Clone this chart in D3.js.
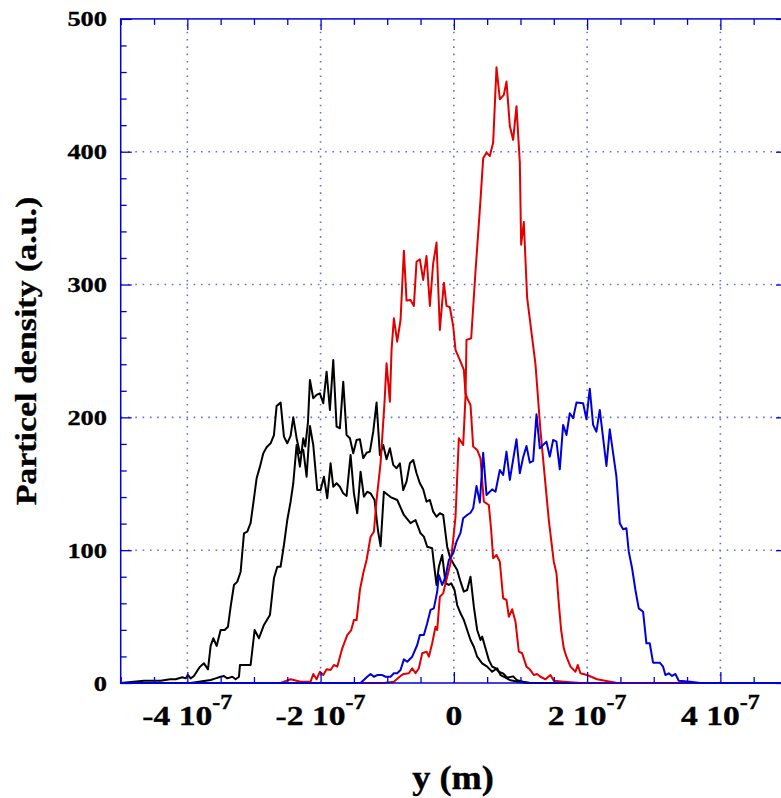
<!DOCTYPE html>
<html>
<head>
<meta charset="utf-8">
<script src="https://cdn.jsdelivr.net/npm/d3@7"></script>
<style>
  html, body { margin: 0; padding: 0; background: #fff; }
  svg { display: block; }
  text { font-family: "Liberation Serif", "Times New Roman", serif; font-weight: bold; fill: #000;
         stroke: #000; stroke-width: 0.35px; }
</style>
</head>
<body>
<script>
// Particle density profiles across y; x positions in nm, density in a.u.
const blackA = [
  [-500,0],[-465,1.7],[-440,1.7],[-426,2.8],[-417.5,2.8],[-407.5,4.3],[-402.5,3.5],[-399,6],[-395,3.5],
  [-390,5.3],[-386,8.5],[-381,12.3],[-375,14.8],[-369,10.3],[-365,27.9],[-361,33.7],[-356,27.9],
  [-350,39.9],[-344,39.9],[-339,42.4],[-335,57.5],[-330,73.8],[-325,76.3],[-320,83.8],[-315,112.7],
  [-310,113.9],[-305,120.5],[-301,135.3],[-296,154.1],[-291,162.9],[-286,172.9],[-281,177.5],
  [-275,180.5],[-270,186.7],[-266,208.6],[-260,211.1],[-255,185.5],[-250,180.5],[-245,186],
  [-241,200],[-236,184.3],[-231,173],[-226,175.5],[-221,155.3],[-216,193.5],[-211,179.2],
  [-205,145.3],[-200,145.3],[-195,155.3],[-190,139.1],[-185,165.4],[-181,147.8],[-176,150.4],
  [-171,147.8],[-166,142.8],[-161,140.8],[-155,171.7],[-150,142.8],[-145,127.8],[-140,159.1],
  [-135,140.3],[-130,144],[-125,142.8],[-119,137.8],[-114,115.2],[-110,103],[-105,144],[-95,140],
  [-85,137.8],[-75,126.5],[-65,120.3],[-57.5,122.7],[-50,112.7],[-45,110.2],[-40,102.6],
  [-32.5,101.4],[-30,90.1],[-26,73.8],[-22.5,87.6],[-17.5,96.4],[-12.5,75.1],[-7.5,73.8],
  [-4,75.1],[1,70],[5,58.7],[10,52.5],[15,47.4],[20,39.9],[25,32.4],[30,27.3],[35,19.8],
  [42.5,14.8],[50,12.3],[57.5,8.5],[65,11.1],[70,6],[77.5,4],[85,2],[100,0.5],[110,0],[500,0]
];
const blackB = [
  [-500,0],[-395,0],[-365,2.3],[-357.5,3.5],[-350,4.7],[-345,5.3],[-340,3.5],[-332.5,4.7],
  [-327.5,2.8],[-322.5,4.7],[-321,13.6],[-305,13.6],[-299,39.9],[-292.5,33.7],[-285,43.7],
  [-276,51.2],[-270,78.8],[-265,87.6],[-260,87.6],[-255,103.9],[-250,122.7],[-245,136.5],
  [-241,150.4],[-236,179.2],[-231,162.9],[-226,184.3],[-223,178],[-219,196],[-216,228.2],
  [-211,214.4],[-206,216.9],[-201,218.1],[-196,210.6],[-191,234.4],[-186,205.6],[-181,243.2],
  [-176,193],[-171,191.8],[-166,226.9],[-161,186.7],[-156,184.3],[-151,173],[-146,183],
  [-141,183.5],[-136,169.2],[-131,173.4],[-126,174.2],[-121,189.2],[-116,211.1],[-111,171.7],
  [-106,179.2],[-101,168.4],[-96,176.7],[-91,164.2],[-86,161.7],[-81,165.4],[-76,145.3],
  [-71,151.6],[-66,165.4],[-61,167.9],[-56,157.9],[-51,150.4],[-46,145.8],[-41,136.5],
  [-36,137.8],[-31,129],[-26,125.2],[-21,127.8],[-16,126.5],[-10,102.6],[-6,95.1],[-1,90.1],
  [5,85.1],[10,76.3],[15,68.8],[20,70],[25,80],[30,57.5],[35,39.9],[40,32.4],[42.5,34.9],
  [47.5,26.1],[52.5,17.3],[57.5,12.3],[62.5,11.1],[67.5,8.5],[74.5,7],[80,4],[89,5],[95,2],
  [104,1],[115,0],[500,0]
];
const redA = [
  [-500,0],[-260,0],[-245,2.8],[-230,1],[-215,1],[-211,6.8],[-206,2.8],[-201,8.5],[-196,6],
  [-191,10.3],[-185,9.8],[-180,13.6],[-175,12.3],[-167.5,26.1],[-160,36.1],[-154,39.9],
  [-150,47.4],[-146,47.4],[-141,70],[-136,82.6],[-131,92.6],[-125,110],[-120,113.9],
  [-116,137.8],[-110,165.4],[-104,211.8],[-101,240.7],[-96,211.8],[-93.5,250.8],[-90,274.6],
  [-85,257],[-80,273.3],[-75,325.5],[-71,287.9],[-65,288.4],[-60,283.9],[-56,317.2],[-51,319],
  [-46,303.5],[-41,321.5],[-36,283.9],[-31,316],[-26,331.6],[-21,265.8],[-15,301.4],[-11,283.9],
  [-6,282.9],[-1,268.8],[2.5,250.8],[10,242],[15,235.7],[17.5,218],[20,214.4],[25,209.3],
  [29,178],[35,175.5],[40,169.2],[45,136.5],[52.5,134],[56,115.2],[59,93.9],[64,96.4],[69,91.3],
  [74,63.8],[79,62.5],[82.5,49.9],[87.5,55.5],[92.5,46.2],[97.5,23.6],[102.5,22.4],[109,12.3],
  [114,10.3],[120,6],[125,6.8],[130,4.7],[137.5,2.8],[145,6],[150,1.7],[165,1],[190,0],[500,0]
];
const redB = [
  [-500,0],[-105,0],[-90,1],[-80,5.3],[-75,6.8],[-67.5,7.3],[-62.5,11.1],[-57.5,7.3],[-52.5,11.1],
  [-47.5,22.4],[-41,23.6],[-37.5,19.8],[-32.5,29.9],[-27.5,42.4],[-25,39.9],[-21,65],[-16,67.5],
  [-10,80],[-5,90.1],[-1,107.7],[2.5,125],[7.5,184.3],[14,179.2],[17.5,215.6],[19,258.3],
  [26,259.6],[32.5,310],[40,363.7],[44,395],[49,399.3],[54,396.8],[59,406.9],[64,463.6],
  [69,439.5],[75,442.8],[79,452.8],[84,419.4],[89,408.9],[94,434.3],[99,391.8],[101,330],
  [105,347],[110,290],[122.5,240],[130,190],[142.5,122.7],[150,91.3],[154,82.6],[157.5,60],
  [161,39.9],[165,26.1],[169,19.8],[175,12.3],[182.5,8.5],[186,13.6],[190,7.3],[200,6],
  [215,2.8],[245,0],[500,0]
];
const blue = [
  [-500,0],[-140,0],[-130,4.7],[-125,6.8],[-120,4.7],[-115,6],[-107.5,6],[-102.5,4.7],[-95,4.7],
  [-90,7.3],[-85,7.3],[-80,9.8],[-75,17.8],[-70,16],[-62.5,19.8],[-55,28.6],[-51,36.1],
  [-45,36.1],[-40,45],[-35,55],[-30,56.2],[-25,68.8],[-22.5,81.3],[-17.5,73.8],[-12.5,80],
  [-7.5,92.6],[-1,97.7],[4,106.4],[10,113],[14,124],[20,126.5],[25,128.2],[29,131.5],[34,148.3],
  [39,135.8],[44,173.4],[49,141.6],[57.5,145.8],[62.5,144],[69,160.4],[74,156.6],[79,174.2],
  [84,152.9],[94,183.5],[99,157.9],[104,170],[109,178.5],[114,165.9],[119,167.2],[124,202.3],
  [129,176.7],[139,181.7],[144,170.4],[149,183],[154,181.7],[159,160.9],[164,194.3],[169,186.7],
  [174,203.1],[179,199.3],[184,211.1],[194,210.6],[199,198.6],[204,221.6],[209,194.3],
  [214,189.2],[219,205.6],[229,163.4],[234,191],[244,155.3],[249,120.3],[254,115.7],[259,116.5],
  [262.5,98.9],[267.5,86.4],[272.5,70],[277.5,56.2],[284,53.7],[289,29.9],[294,29.9],[299,15.3],
  [309,15.3],[314,12.3],[317.5,6],[322.5,7.3],[327.5,5.3],[332.5,6.8],[337.5,1.7],[355,1],
  [370,0],[500,0]
];

const series = [
  { name: "blackA", color: "#000000", points: blackA },
  { name: "blackB", color: "#000000", points: blackB },
  { name: "redA",   color: "#e00000", points: redA },
  { name: "redB",   color: "#e00000", points: redB },
  { name: "blue",   color: "#0000d8", points: blue }
];

const xMajorTicks = [-4e-7, -2e-7, 0, 2e-7, 4e-7];
const xTickLabels = [["-4 10", "-7"], ["-2 10", "-7"], ["0", ""], ["2 10", "-7"], ["4 10", "-7"]];
const yMajorTicks = [0, 100, 200, 300, 400, 500];
const yTickLabels = ["0", "100", "200", "300", "400", "500"];
const xTitle = "y (m)";
const yTitle = "Particel density (a.u.)";

const W = 781, H = 798;
const plot = { left: 120.7, right: 787, top: 18.9, bottom: 683 };
const axisColor = "#0000dd";
const gridColor = "#6a6ae8";

const svg = d3.select("body").append("svg").attr("width", W).attr("height", H);

const x = d3.scaleLinear().domain([-5e-7, 5e-7]).range([plot.left, plot.right]);
const y = d3.scaleLinear().domain([0, 500]).range([plot.bottom, plot.top]);

const xMinor = d3.range(-5e-7, 5.0001e-7, 0.5e-7);
const yMinor = d3.range(0, 500.001, 20);

// dotted grid
const grid = svg.append("g").attr("stroke", gridColor).attr("stroke-width", 1.6)
  .attr("stroke-dasharray", "1.6,5.7");
grid.selectAll("line.gx").data(xMajorTicks).join("line")
  .attr("x1", d => x(d)).attr("x2", d => x(d)).attr("y1", plot.bottom).attr("y2", plot.top);
grid.selectAll("line.gy").data(yMajorTicks.slice(1, -1)).join("line")
  .attr("y1", d => y(d)).attr("y2", d => y(d)).attr("x1", plot.left).attr("x2", plot.right);

// curves
const line = d3.line().x(d => x(d[0] * 1e-9)).y(d => y(d[1]));
svg.append("g").selectAll("path").data(series).join("path")
  .attr("d", d => line(d.points))
  .attr("fill", "none")
  .attr("stroke", d => d.color)
  .attr("stroke-width", 2)
  .attr("stroke-linejoin", "round");

// frame and ticks
const frame = svg.append("g");
frame.append("rect")
  .attr("x", plot.left).attr("y", plot.top)
  .attr("width", plot.right - plot.left).attr("height", plot.bottom - plot.top)
  .attr("fill", "none").attr("stroke", axisColor).attr("stroke-width", 1.5);

const isMajorX = v => xMajorTicks.some(t => Math.abs(t - v) < 1e-12);
const isMajorY = v => yMajorTicks.includes(Math.round(v));

const xAxisBottom = d3.axisBottom(x).tickValues(xMinor).tickSize(0).tickFormat("");
svg.append("g").attr("transform", `translate(0,${plot.bottom})`).call(xAxisBottom)
  .call(g => g.select(".domain").remove())
  .call(g => g.selectAll(".tick line").attr("stroke", axisColor).attr("stroke-width", 1.3)
    .attr("y2", d => isMajorX(d) ? -11 : -6));
const xAxisTop = d3.axisTop(x).tickValues(xMinor).tickSize(0).tickFormat("");
svg.append("g").attr("transform", `translate(0,${plot.top})`).call(xAxisTop)
  .call(g => g.select(".domain").remove())
  .call(g => g.selectAll(".tick line").attr("stroke", axisColor).attr("stroke-width", 1.3)
    .attr("y2", d => isMajorX(d) ? 11 : 6));
const yAxisLeft = d3.axisLeft(y).tickValues(yMinor).tickSize(0).tickFormat("");
svg.append("g").attr("transform", `translate(${plot.left},0)`).call(yAxisLeft)
  .call(g => g.select(".domain").remove())
  .call(g => g.selectAll(".tick line").attr("stroke", axisColor).attr("stroke-width", 1.3)
    .attr("x2", d => isMajorY(d) ? 11 : 6));
const yAxisRight = d3.axisRight(y).tickValues(yMinor).tickSize(0).tickFormat("");
svg.append("g").attr("transform", `translate(${plot.right},0)`).call(yAxisRight)
  .call(g => g.select(".domain").remove())
  .call(g => g.selectAll(".tick line").attr("stroke", axisColor).attr("stroke-width", 1.3)
    .attr("x2", d => isMajorY(d) ? -11 : -6));

// the serif face used here is a little narrow, so labels are stretched along their baseline
const stretch = 1.2;

// y tick labels
svg.append("g").selectAll("text").data(yMajorTicks).join("text")
  .attr("transform", d => `translate(107,${y(d) + 7.5}) scale(${stretch},1)`)
  .attr("text-anchor", "end")
  .attr("font-size", 22)
  .text((d, i) => yTickLabels[i]);

// x tick labels with exponent
const xl = svg.append("g").selectAll("text").data(xMajorTicks).join("text")
  .attr("transform", d => `translate(${x(d)},725) scale(${stretch},1)`)
  .attr("text-anchor", "middle")
  .attr("font-size", 28);
xl.append("tspan").text((d, i) => xTickLabels[i][0]);
xl.append("tspan").attr("font-size", 20).attr("dy", -16).text((d, i) => xTickLabels[i][1]);

// axis titles
svg.append("text").attr("transform", "translate(453,789) scale(1.1,1)")
  .attr("text-anchor", "middle").attr("font-size", 33).text(xTitle);
svg.append("text").attr("transform", "translate(36,351) rotate(-90) scale(1.13,1)")
  .attr("text-anchor", "middle").attr("font-size", 30).text(yTitle);
</script>
</body>
</html>
